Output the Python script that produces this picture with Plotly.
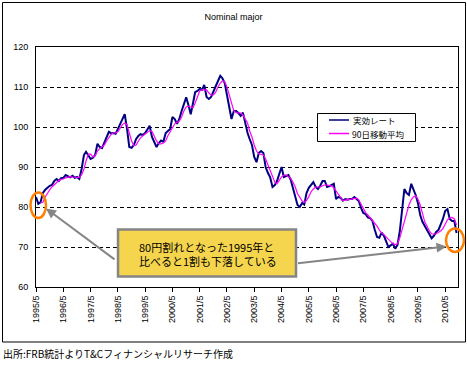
import pandas as pd
import plotly.graph_objects as go

# ---- data (monthly) ----
RATE_START = "1995-05-01"
RATE = [82.5, 80.8, 81.2, 83.5, 84.3, 84.8, 85.3, 85.5, 86.5, 87.0, 86.5, 87.2,
        87.3, 88.0, 87.6, 87.4, 87.8, 87.3, 87.5, 87.0, 89.5, 93.0, 93.8, 93.0,
        92.0, 92.3, 93.0, 95.8, 95.0, 94.7, 96.0, 97.2, 98.8, 98.4, 98.5, 98.3,
        99.5, 101.0, 102.0, 103.2, 99.5, 95.0, 94.8, 95.5, 97.0, 97.8, 98.2, 98.0,
        98.5, 99.5, 100.3, 97.5, 96.0, 95.0, 96.0, 96.6, 96.3, 98.5, 99.0, 99.5,
        102.5, 102.0, 100.8, 102.0, 104.0, 106.0, 107.4, 105.5, 103.2, 106.0, 108.7, 109.0,
        109.5, 109.3, 110.5, 107.5, 107.0, 107.5, 108.7, 110.0, 111.5, 112.8, 112.2, 111.0,
        108.0, 104.5, 102.0, 104.0, 104.0, 103.5, 102.8, 103.6, 101.0, 98.5, 97.0, 95.5,
        92.5, 91.2, 93.5, 94.0, 93.5, 90.0, 88.5, 87.4, 85.0, 85.5, 86.5, 88.5,
        90.0, 87.5, 87.8, 88.0, 86.8, 84.5, 82.4, 80.5, 80.0, 81.0, 80.6, 83.5,
        84.8, 85.5, 86.2, 85.0, 84.5, 85.3, 86.5, 86.5, 85.0, 85.2, 85.4, 85.8,
        82.0, 82.5, 82.3, 81.6, 82.0, 81.8, 82.0, 82.0, 82.5, 82.0, 81.5, 79.8,
        78.5, 78.2, 77.4, 77.2, 76.5, 74.3, 72.5, 72.3, 73.6, 72.8, 71.5, 70.0,
        70.4, 70.8, 69.6, 70.5, 74.0, 80.0, 84.5, 83.5, 83.0, 85.8, 84.5, 83.0,
        81.0, 78.0, 76.3, 75.3, 74.5, 73.5, 72.2, 72.8, 73.8, 74.3, 75.5, 77.0,
        79.0, 79.5, 77.0, 76.5, 76.5, 73.5]

MA_START = "1995-07-01"
MA90 = [81.0, 81.2, 82.5, 83.5, 84.3, 85.0, 85.5, 86.2, 86.6, 86.9,
        87.0, 87.3, 87.5, 87.6, 87.5, 87.5, 87.4, 87.4, 88.0, 89.5, 91.5, 93.2,
        93.2, 92.5, 92.8, 94.0, 94.6, 95.0, 95.5, 96.5, 97.3, 98.2, 98.5, 98.5,
        98.8, 99.8, 100.6, 101.0, 100.6, 98.5, 96.5, 95.3, 95.5, 96.5, 97.3, 97.8,
        98.2, 98.8, 99.1, 98.9, 97.7, 96.5, 95.8, 95.8, 96.0, 96.5, 97.8, 98.8,
        100.0, 100.8, 101.2, 101.5, 102.5, 104.0, 105.0, 105.2, 105.0, 104.8, 106.0, 107.5,
        109.0, 109.3, 109.3, 109.3, 108.5, 108.0, 108.0, 108.7, 110.0, 111.0, 111.5, 111.3,
        110.0, 108.0, 105.5, 104.0, 103.6, 103.5, 103.5, 103.0, 102.0, 101.0, 99.0, 97.5,
        95.5, 94.0, 93.3, 93.1, 93.0, 92.0, 90.5, 89.3, 87.8, 86.2, 85.8, 86.8,
        87.5, 88.0, 88.0, 87.5, 87.2, 86.2, 85.0, 83.3, 82.4, 81.5, 81.2, 81.6,
        82.6, 83.8, 84.5, 85.0, 85.0, 85.0, 85.3, 85.5, 85.5, 85.3, 85.3, 84.8,
        84.0, 83.0, 82.2, 81.6, 81.7, 81.8, 82.0, 82.0, 82.2, 82.2, 81.8, 80.8,
        79.5, 78.6, 78.0, 77.3, 76.8, 76.0, 75.2, 74.3, 73.5, 73.1, 72.5, 71.8,
        71.2, 70.8, 70.6, 70.8, 72.3, 74.5, 76.5, 78.5, 80.5, 81.8, 82.5, 82.8,
        82.0, 80.5, 78.7, 76.3, 75.2, 74.0, 73.3, 73.2, 73.3, 73.6, 74.0, 74.6,
        75.8, 76.8, 77.3, 77.4, 77.0, 75.5]

TICK_YEARS = list(range(1995, 2011))
TICK_LABELS = [f"{y}/5" for y in TICK_YEARS]
TICK_DATES = [f"{y}-05-01" for y in TICK_YEARS]

SERIES_NAMES = ["実効レート", "90日移動平均"]
TITLE = "Nominal major"
NOTE = "80円割れとなった1995年と<br>比べると1割も下落している"
SOURCE = "出所:FRB統計よりT&Cフィナンシャルリサーチ作成"

rate_dates = pd.date_range(RATE_START, periods=len(RATE), freq="MS")
ma_dates = pd.date_range(MA_START, periods=len(MA90), freq="MS")

NAVY = "#000080"
MAGENTA = "#FF00FF"
ORANGE = "#FF8000"
GRAY = "#858585"
YELLOW = "#F5D54E"
LATIN = "Liberation Sans, Arial, sans-serif"
CJK = "Noto Sans CJK JP, sans-serif"

W, H = 467, 367
L, R, T, B = 36, 9, 47, 80
PW, PH = W - L - R, H - T - B


def X(px):
    return (px - L) / PW


def Y(py):
    return (H - B - py) / PH


fig = go.Figure()
fig.add_trace(go.Scatter(x=rate_dates, y=RATE, mode="lines", name=SERIES_NAMES[0],
                         line=dict(color=NAVY, width=2), showlegend=False))
fig.add_trace(go.Scatter(x=ma_dates, y=MA90, mode="lines", name=SERIES_NAMES[1],
                         line=dict(color=MAGENTA, width=1.2), showlegend=False))

shapes = []
# outer chart border
shapes.append(dict(type="rect", xref="paper", yref="paper",
                   x0=X(2.5), x1=X(465.5), y0=Y(342), y1=Y(2.5),
                   line=dict(color="black", width=1)))
# legend box
shapes.append(dict(type="rect", xref="paper", yref="paper",
                   x0=X(317.5), x1=X(415.5), y0=Y(141.5), y1=Y(113.5),
                   line=dict(color="black", width=1), fillcolor="white"))
shapes.append(dict(type="line", xref="paper", yref="paper",
                   x0=X(329), x1=X(349), y0=Y(120), y1=Y(120),
                   line=dict(color=NAVY, width=1.5)))
shapes.append(dict(type="line", xref="paper", yref="paper",
                   x0=X(329), x1=X(349), y0=Y(133.5), y1=Y(133.5),
                   line=dict(color=MAGENTA, width=1.5)))
# callout box
shapes.append(dict(type="rect", xref="paper", yref="paper",
                   x0=X(118), x1=X(296), y0=Y(276.5), y1=Y(229.5),
                   line=dict(color=GRAY, width=2.5), fillcolor=YELLOW))
# orange ellipses
shapes.append(dict(type="circle", xref="paper", yref="paper",
                   x0=X(30.5), x1=X(46), y0=Y(218), y1=Y(192.5),
                   line=dict(color=ORANGE, width=2.5)))
shapes.append(dict(type="circle", xref="paper", yref="paper",
                   x0=X(446), x1=X(464), y0=Y(252), y1=Y(228.5),
                   line=dict(color=ORANGE, width=2.5)))

annotations = []
annotations.append(dict(xref="paper", yref="paper", x=X(351), y=Y(120),
                        xanchor="left", yanchor="middle", showarrow=False,
                        text=SERIES_NAMES[0], font=dict(family=CJK, size=8.5, color="black")))
annotations.append(dict(xref="paper", yref="paper", x=X(350), y=Y(133.5),
                        xanchor="left", yanchor="middle", showarrow=False,
                        text=SERIES_NAMES[1], font=dict(family=CJK, size=8.5, color="black")))
annotations.append(dict(xref="paper", yref="paper", x=X(137), y=Y(254),
                        xanchor="left", yanchor="middle", align="left", showarrow=False,
                        text=NOTE, font=dict(family=CJK, size=11, color="black")))
# arrows
annotations.append(dict(xref="paper", yref="paper", x=X(46), y=Y(208.5), text="",
                        showarrow=True, ax=70, ay=52, arrowcolor=GRAY, arrowwidth=2,
                        arrowhead=2, arrowsize=1, standoff=0))
annotations.append(dict(xref="paper", yref="paper", x=X(446.5), y=Y(246.5), text="",
                        showarrow=True, ax=-150, ay=17, arrowcolor=GRAY, arrowwidth=2,
                        arrowhead=2, arrowsize=1, standoff=0))
annotations.append(dict(xref="paper", yref="paper", x=X(1), y=Y(353),
                        xanchor="left", yanchor="middle", showarrow=False,
                        text=SOURCE, font=dict(family=CJK, size=10, color="black")))

fig.update_layout(
    width=W, height=H,
    margin=dict(l=L, r=R, t=T, b=B),
    paper_bgcolor="white", plot_bgcolor="white",
    title=dict(text=TITLE, x=0.5, xref="container", xanchor="center",
               y=1 - 17 / H, yanchor="middle", yref="container",
               font=dict(family=LATIN, size=9, color="black")),
    shapes=shapes, annotations=annotations,
    showlegend=False,
)
fig.update_xaxes(type="date", range=["1995-05-01", "2010-10-20"],
                 tickvals=TICK_DATES, ticktext=TICK_LABELS, tickangle=-90,
                 ticks="outside", ticklen=4, tickcolor="black",
                 showgrid=False, showline=True, linecolor="black", linewidth=1, mirror=True,
                 tickfont=dict(family=LATIN, size=9, color="black"), zeroline=False)
fig.update_yaxes(range=[60, 120], dtick=10, tick0=60,
                 ticks="outside", ticklen=5, tickcolor="rgba(0,0,0,0)",
                 showgrid=True, gridcolor="black", gridwidth=1, griddash="4px,3px",
                 showline=True, linecolor="black", linewidth=1, mirror=True,
                 tickfont=dict(family=LATIN, size=9, color="black"), zeroline=False)

fig.write_html("out.html", config={"displayModeBar": False},
               post_script="document.body.style.margin='0';document.body.style.padding='0';")
